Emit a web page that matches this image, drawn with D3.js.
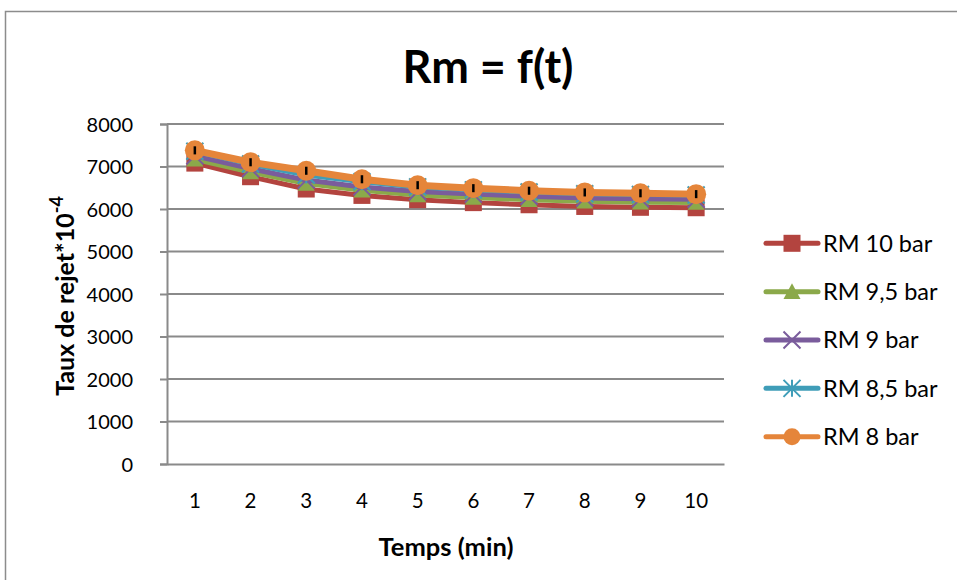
<!DOCTYPE html>
<html><head><meta charset="utf-8">
<script src="https://cdn.jsdelivr.net/npm/d3@7"></script>
<style>body{margin:0;background:#fff}svg{display:block}text{font-family:Lato,"Open Sans",sans-serif}</style>
</head><body><svg id="c" width="957" height="580"></svg>
<script>
const categories = [1,2,3,4,5,6,7,8,9,10];
const seriesNames = ["RM 10 bar","RM 9,5 bar","RM 9 bar","RM 8,5 bar","RM 8 bar"];
const rm10  = [7080,6760,6470,6320,6220,6150,6100,6060,6040,6030];
const rm95  = [7170,6870,6600,6440,6330,6270,6220,6180,6160,6150];
const rm9   = [7250,6950,6680,6520,6410,6350,6300,6260,6240,6230];
const rm85  = [7360,7060,6800,6640,6520,6450,6400,6360,6340,6330];
const rm8   = [7380,7100,6900,6700,6560,6490,6430,6390,6370,6350];
const errRm8 = [95,95,95,95,95,95,95,95,95,95];
const yTicks = [0,1000,2000,3000,4000,5000,6000,7000,8000];
const colors = ["#B3443F","#8BA94A","#7A5C9C","#3F9DB8","#E5853A"];
const markers = ["square","triangle","x","star","circle"];
const allSeries = [rm10, rm95, rm9, rm85, rm8];

const svg = d3.select("#c");
const L = 167, R = 724, T = 124, B = 464;
const x = d3.scaleBand().domain(categories).range([L, R]);
const y = d3.scaleLinear().domain([0, 8000]).range([B, T]);
const cx = d => x(d) + x.bandwidth()/2;

// chart border
svg.append("rect").attr("x",5.5).attr("y",11.5).attr("width",1000).attr("height",1000)
  .attr("fill","none").attr("stroke","#8c8c8c").attr("stroke-width",1.5);

// title
svg.append("text").attr("x",488).attr("y",83).attr("text-anchor","middle")
  .attr("font-size",45).attr("font-weight",700).attr("fill","#000").text("Rm = f(t)");

// gridlines
svg.append("g").selectAll("line").data(yTicks.filter(v=>v>0)).join("line")
  .attr("x1",L).attr("x2",R).attr("y1",d=>y(d)).attr("y2",d=>y(d))
  .attr("stroke","#8a8a8a").attr("stroke-width",2);

// y axis
const ya = svg.append("g").attr("transform",`translate(${L},0)`)
  .call(d3.axisLeft(y).tickValues(yTicks).tickSize(7).tickPadding(34).tickFormat(d3.format("d")));
ya.select(".domain").attr("stroke","#8a8a8a").attr("stroke-width",2);
ya.selectAll(".tick line").attr("stroke","#8a8a8a").attr("stroke-width",2);
ya.selectAll(".tick text").attr("font-size",20).attr("font-family","Lato").attr("fill","#000")
  .attr("text-anchor","end").attr("x",-34).attr("dy","0.36em");

// x axis
const xa = svg.append("g").attr("transform",`translate(0,${B})`)
  .call(d3.axisBottom(x).tickSize(0).tickPadding(29));
xa.select(".domain").attr("stroke","#8a8a8a").attr("stroke-width",2);
xa.selectAll(".tick text").attr("font-size",20.5).attr("font-family","Lato").attr("fill","#000");

// axis titles
svg.append("text").attr("x",446).attr("y",556).attr("text-anchor","middle")
  .attr("font-size",25.5).attr("font-weight",700).text("Temps (min)");
const yt = svg.append("text").attr("transform","translate(74,296) rotate(-90)")
  .attr("text-anchor","middle").attr("font-size",25).attr("font-weight",700);
yt.append("tspan").text("Taux de rejet*10");
yt.append("tspan").attr("dy",-11).attr("font-size",18).text("-4");

function drawMarker(g, type, px, py, color, s) {
  const h = s/2;
  if (type === "square") {
    g.append("rect").attr("x",px-h).attr("y",py-h).attr("width",s).attr("height",s).attr("fill",color);
  } else if (type === "triangle") {
    g.append("path").attr("d",`M${px},${py-h}L${px+h},${py+h*0.85}L${px-h},${py+h*0.85}Z`).attr("fill",color);
  } else if (type === "x") {
    g.append("path").attr("d",`M${px-h},${py-h}L${px+h},${py+h}M${px-h},${py+h}L${px+h},${py-h}`)
      .attr("stroke",color).attr("stroke-width",2);
  } else if (type === "star") {
    g.append("path").attr("d",`M${px-h},${py-h}L${px+h},${py+h}M${px-h},${py+h}L${px+h},${py-h}M${px},${py-h}L${px},${py+h}`)
      .attr("stroke",color).attr("stroke-width",2);
  } else {
    g.append("circle").attr("cx",px).attr("cy",py).attr("r",h).attr("fill",color);
  }
}

const line = d3.line().x((d,i)=>cx(categories[i])).y(d=>y(d));
allSeries.forEach((vals, si) => {
  const g = svg.append("g");
  g.append("path").datum(vals).attr("d",line).attr("fill","none")
    .attr("stroke",colors[si]).attr("stroke-width", si===4 ? 7 : 5).attr("stroke-linejoin","round");
  vals.forEach((v,i) => drawMarker(g, markers[si], cx(categories[i]), y(v), colors[si], si===4?20:17));
});

// error bars on RM 8 bar
svg.append("g").selectAll("line").data(rm8).join("line")
  .attr("x1",(d,i)=>cx(categories[i])).attr("x2",(d,i)=>cx(categories[i]))
  .attr("y1",(d,i)=>y(d+errRm8[i])).attr("y2",(d,i)=>y(d-errRm8[i]))
  .attr("stroke","#000").attr("stroke-width",2.5);

// legend
const lg = svg.append("g");
seriesNames.forEach((n, si) => {
  const ly = 243.3 + si*48.35;
  lg.append("line").attr("x1",766).attr("x2",818).attr("y1",ly).attr("y2",ly)
    .attr("stroke",colors[si]).attr("stroke-width",5).attr("stroke-linecap","round");
  drawMarker(lg, markers[si], 792, ly, colors[si], 17);
  lg.append("text").attr("x",823).attr("y",ly).attr("dy","0.36em")
    .attr("font-size",23.5).attr("fill","#000").text(n);
});
</script></body></html>
